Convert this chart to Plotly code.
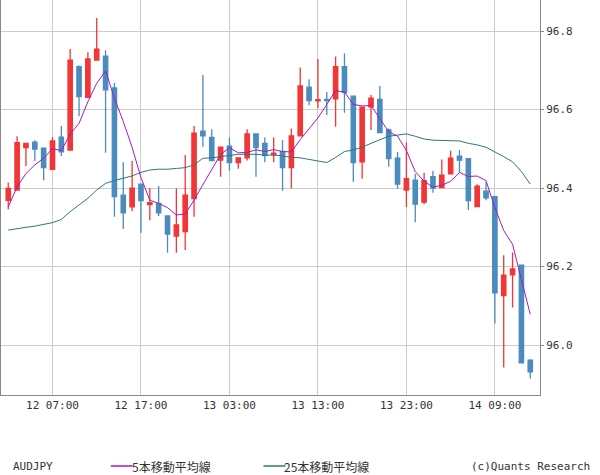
import plotly.graph_objects as go

tick_labels = ["12 07:00", "12 17:00", "13 03:00", "13 13:00", "13 23:00", "14 09:00"]
tick_index = [5, 15, 25, 35, 45, 55]

opens = [96.369,96.395,96.503,96.517,96.502,96.448,96.530,96.497,96.709,96.631,
         96.726,96.736,96.655,96.382,96.352,96.410,96.358,96.361,96.329,96.278,
         96.289,96.373,96.545,96.529,96.471,96.507,96.465,96.477,96.538,96.514,
         96.485,96.493,96.452,96.533,96.657,96.622,96.626,96.627,96.709,96.634,
         96.467,96.607,96.626,96.548,96.476,96.395,96.420,96.364,96.429,96.401,
         96.436,96.481,96.475,96.353,96.392,96.378,96.126,96.179,96.204,95.962]
closes = [96.399,96.516,96.514,96.499,96.452,96.520,96.492,96.726,96.633,96.729,
          96.754,96.650,96.378,96.337,96.400,96.368,96.363,96.337,96.283,96.306,
          96.382,96.540,96.533,96.470,96.504,96.465,96.477,96.538,96.503,96.483,
          96.489,96.452,96.533,96.660,96.623,96.625,96.623,96.709,96.643,96.465,
          96.606,96.629,96.541,96.475,96.410,96.424,96.359,96.419,96.400,96.433,
          96.476,96.471,96.368,96.405,96.375,96.133,96.178,96.194,95.955,95.932]
highs = [96.414,96.532,96.514,96.522,96.502,96.530,96.558,96.754,96.712,96.746,
         96.833,96.751,96.668,96.466,96.469,96.410,96.400,96.405,96.329,96.399,
         96.484,96.558,96.688,96.550,96.504,96.529,96.477,96.550,96.538,96.529,
         96.529,96.522,96.552,96.707,96.677,96.729,96.645,96.735,96.743,96.634,
         96.606,96.637,96.660,96.552,96.492,96.516,96.436,96.439,96.444,96.473,
         96.495,96.497,96.475,96.410,96.415,96.378,96.229,96.236,96.204,95.964]
lows = [96.346,96.395,96.456,96.469,96.420,96.448,96.482,96.497,96.583,96.631,
        96.724,96.490,96.327,96.296,96.341,96.286,96.318,96.329,96.235,96.235,
        96.242,96.327,96.505,96.470,96.429,96.444,96.449,96.470,96.429,96.466,
        96.466,96.393,96.399,96.533,96.611,96.603,96.586,96.556,96.592,96.416,
        96.424,96.548,96.541,96.454,96.398,96.352,96.313,96.359,96.388,96.401,
        96.436,96.439,96.344,96.353,96.369,96.055,95.943,96.096,95.955,95.915]
ma5_start = [96.352, 96.403, 96.437, 96.459]
ma25 = [96.293,96.297,96.300,96.303,96.307,96.312,96.320,96.340,96.357,96.374,
        96.395,96.412,96.419,96.425,96.431,96.440,96.446,96.448,96.448,96.450,
        96.452,96.459,96.476,96.477,96.480,96.484,96.486,96.486,96.486,96.484,
        96.484,96.482,96.478,96.477,96.473,96.469,96.465,96.478,96.493,96.497,
        96.504,96.514,96.524,96.532,96.535,96.538,96.532,96.525,96.522,96.521,
        96.520,96.520,96.514,96.510,96.504,96.493,96.480,96.467,96.442,96.410]

n = len(closes)
idx = list(range(n))
ma5 = ma5_start + [sum(closes[i-4:i+1]) / 5 for i in range(4, n)]

RED = "#F23535"
BLUE = "#4B8BBE"
PURPLE = "#A21CC0"
TEAL = "#2C7A70"
FONT = "DejaVu Sans Mono"

fig = go.Figure()
fig.add_trace(go.Candlestick(
    x=idx, open=opens, high=highs, low=lows, close=closes,
    increasing=dict(line=dict(color=RED, width=1.3), fillcolor=RED),
    decreasing=dict(line=dict(color=BLUE, width=1.3), fillcolor=BLUE),
    whiskerwidth=0, showlegend=False, hoverinfo="skip"))
fig.add_trace(go.Scatter(x=idx, y=ma25, mode="lines", line=dict(color=TEAL, width=1),
                         showlegend=False, hoverinfo="skip"))
fig.add_trace(go.Scatter(x=idx, y=ma5, mode="lines", line=dict(color=PURPLE, width=1),
                         showlegend=False, hoverinfo="skip"))

fig.update_layout(
    width=600, height=475, margin=dict(l=1, r=60, t=0, b=80),
    paper_bgcolor="white", plot_bgcolor="white",
    font=dict(family=FONT, size=11, color="#333"),
    xaxis=dict(range=[-0.82, 60.1], tickvals=tick_index, ticktext=tick_labels,
               showgrid=True, gridcolor="#cccccc", rangeslider=dict(visible=False),
               showline=True, linecolor="#888", mirror=True, ticks="outside",
               ticklen=0, zeroline=False, tickfont=dict(size=11, family=FONT)),
    yaxis=dict(range=[95.873, 96.879], side="right", tickvals=[96.0, 96.2, 96.4, 96.6, 96.8],
               ticktext=["96.0", "96.2", "96.4", "96.6", "96.8"],
               showgrid=True, gridcolor="#cccccc", showline=True, linecolor="#888",
               mirror=True, ticks="outside", ticklen=3, tickcolor="#888", zeroline=False,
               tickfont=dict(size=11, family=FONT)),
)

ly = 466
py = -(ly - 395) / 395
fig.add_annotation(x=10 / 540, y=py, xref="paper", yref="paper", text="AUDJPY",
                   showarrow=False, xanchor="left", yanchor="middle")
for x0, col, txt in [(110, PURPLE, "5本移動平均線"), (263, TEAL, "25本移動平均線")]:
    fig.add_shape(type="line", xref="paper", yref="paper",
                  x0=x0 / 540, x1=(x0 + 22) / 540, y0=py, y1=py,
                  line=dict(color=col, width=1.5))
    fig.add_annotation(x=(x0 + 22) / 540, y=py, xref="paper", yref="paper",
                       text=txt, showarrow=False, xanchor="left", yanchor="middle",
                       xshift=-3, font=dict(family="Noto Sans CJK JP", size=12, color="#333"))
fig.add_annotation(x=592 / 540, y=py, xref="paper", yref="paper",
                   text="(c)Quants Research", showarrow=False, xanchor="right", yanchor="middle")

fig.write_html("out.html", config={"displayModeBar": False},
               post_script="document.body.style.margin='0';document.body.style.overflow='hidden';")
